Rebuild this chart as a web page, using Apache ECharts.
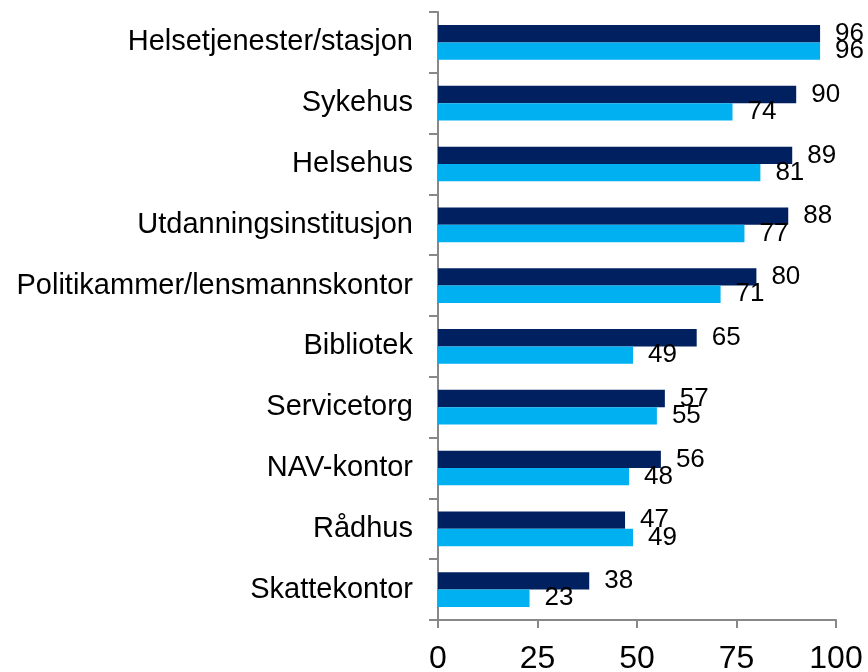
<!DOCTYPE html>
<html>
<head>
<meta charset="utf-8">
<script src="https://cdn.jsdelivr.net/npm/echarts@6/dist/echarts.min.js"></script>
<style>
  html, body { margin: 0; padding: 0; background: #fff; }
  #chart { width: 868px; height: 672px; }
</style>
</head>
<body>
<div id="chart"></div>
<script>
var categories = ['Helsetjenester/stasjon', 'Sykehus', 'Helsehus', 'Utdanningsinstitusjon',
    'Politikammer/lensmannskontor', 'Bibliotek', 'Servicetorg', 'NAV-kontor', 'Rådhus', 'Skattekontor'];
var seriesDark = [96, 90, 89, 88, 80, 65, 57, 56, 47, 38];
var seriesLight = [96, 74, 81, 77, 71, 49, 55, 48, 49, 23];
var xTicks = [0, 25, 50, 75, 100];

var myChart = echarts.init(document.getElementById('chart'));

var labelStyle = {
    show: true,
    position: 'right',
    distance: 15,
    color: '#000',
    fontSize: 26,
    fontFamily: 'Liberation Sans'
};

var option = {
    animation: false,
    grid: {
        left: 438,
        right: 32,
        top: 12,
        bottom: 52,
        outerBoundsMode: 'none'
    },
    xAxis: {
        type: 'value',
        min: xTicks[0],
        max: xTicks[xTicks.length - 1],
        interval: 25,
        splitLine: { show: false },
        axisLine: { show: true, lineStyle: { color: '#888', width: 2 } },
        axisTick: { show: true, length: 8, lineStyle: { color: '#888', width: 2 } },
        axisLabel: {
            color: '#000',
            fontSize: 32,
            fontFamily: 'Liberation Sans',
            margin: 23
        }
    },
    yAxis: {
        type: 'category',
        data: categories,
        inverse: true,
        axisLine: { show: true, lineStyle: { color: '#888', width: 2 } },
        axisTick: { show: true, length: 9, lineStyle: { color: '#888', width: 2 } },
        axisLabel: {
            color: '#000',
            fontSize: 29,
            fontFamily: 'Liberation Sans',
            margin: 25
        }
    },
    series: [
        {
            name: 'Serie 1',
            type: 'bar',
            data: seriesDark,
            barGap: '0%',
            barCategoryGap: '43%',
            itemStyle: { color: '#002060' },
            label: labelStyle
        },
        {
            name: 'Serie 2',
            type: 'bar',
            data: seriesLight,
            itemStyle: { color: '#00B0F0' },
            label: labelStyle
        }
    ]
};

myChart.setOption(option);
window.addEventListener('resize', function () {
    myChart.resize();
});
</script>
</body>
</html>
